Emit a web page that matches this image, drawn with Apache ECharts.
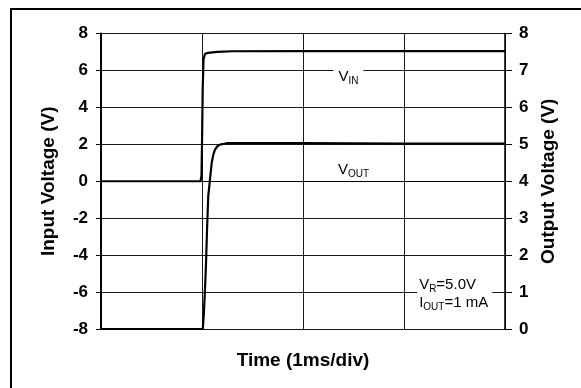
<!DOCTYPE html>
<html>
<head>
<meta charset="utf-8">
<script src="https://cdn.jsdelivr.net/npm/echarts@6/dist/echarts.min.js"></script>
<style>
  html, body { margin: 0; padding: 0; background: #ffffff; }
  #chart { width: 581px; height: 388px; }
</style>
</head>
<body>
<div id="chart"></div>
<script>
// Time axis: 1 ms per division, four divisions
const timeRange = [0, 4];

// Input voltage step (left axis, V) against time (ms)
const vinTime  = [0, 0.985, 0.995, 1.000, 1.007, 1.015, 1.030, 1.060, 1.150, 1.300, 2.000, 3.000, 4.000];
const vinVolts = [0, 0,     0.3,   2.0,   5.0,   6.6,   6.90,  6.95,  7.00,  7.04,  7.05,  7.05,  7.05];

// Regulated output voltage response (right axis, V) against time (ms)
const voutTime  = [0, 1.008, 1.013, 1.020, 1.030, 1.040, 1.050, 1.062, 1.079, 1.096, 1.112, 1.129, 1.150, 1.178, 1.244, 2.000, 3.000, 4.000];
const voutVolts = [0, 0,     0.05,  0.5,   1.1,   1.8,   2.7,   3.6,   4.05,  4.5,   4.72,  4.86,  4.94,  4.99,  5.03,  5.03,  5.02,  5.02];

// Axis ranges
const inputRange = [-8, 8];
const outputRange = [0, 8];

const FONT = 'Liberation Sans, Arial, Helvetica, sans-serif';

const pair = (xs, ys) => xs.map((x, i) => [x, ys[i]]);

const chart = echarts.init(document.getElementById('chart'), null, { renderer: 'canvas' });

const option = {
  backgroundColor: '#ffffff',
  animation: false,
  grid: { left: 101, right: 76, top: 33.5, bottom: 59, containLabel: false },
  xAxis: {
    type: 'value',
    min: timeRange[0], max: timeRange[1], interval: 1,
    name: 'Time (1ms/div)',
    nameLocation: 'middle',
    nameGap: 22,
    nameTextStyle: { fontFamily: FONT, fontWeight: 'bold', fontSize: 19, color: '#000' },
    axisLine: { show: true, lineStyle: { color: '#000', width: 1 } },
    axisTick: { show: false },
    axisLabel: { show: false },
    splitLine: { show: true, lineStyle: { color: '#1a1a1a', width: 1 } }
  },
  yAxis: [
    {
      type: 'value',
      position: 'left',
      min: inputRange[0], max: inputRange[1], interval: 2,
      name: 'Input Voltage (V)',
      nameLocation: 'middle',
      nameGap: 43,
      nameTextStyle: { fontFamily: FONT, fontWeight: 'bold', fontSize: 19, color: '#000' },
      axisLine: { show: true, lineStyle: { color: '#000', width: 2 } },
      axisTick: { show: true, inside: false, length: 5, lineStyle: { color: '#000', width: 1 } },
      axisLabel: { margin: 13, fontFamily: FONT, fontWeight: 'bold', fontSize: 17, color: '#000' },
      splitLine: { show: true, lineStyle: { color: '#1a1a1a', width: 1 } }
    },
    {
      type: 'value',
      position: 'right',
      min: outputRange[0], max: outputRange[1], interval: 1,
      name: 'Output Voltage (V)',
      nameLocation: 'middle',
      nameGap: 33,
      nameTextStyle: { fontFamily: FONT, fontWeight: 'bold', fontSize: 19, color: '#000' },
      axisLine: { show: true, lineStyle: { color: '#000', width: 1.5 } },
      axisTick: { show: true, inside: false, length: 7, lineStyle: { color: '#000', width: 1 } },
      axisLabel: { margin: 14, fontFamily: FONT, fontWeight: 'bold', fontSize: 17, color: '#000' },
      splitLine: { show: false }
    }
  ],
  series: [
    {
      name: 'VIN',
      type: 'line',
      yAxisIndex: 0,
      data: pair(vinTime, vinVolts),
      showSymbol: false,
      symbol: 'none',
      lineStyle: { color: '#000', width: 2.2 },
      z: 5
    },
    {
      name: 'VOUT',
      type: 'line',
      yAxisIndex: 1,
      data: pair(voutTime, voutVolts),
      showSymbol: false,
      symbol: 'none',
      lineStyle: { color: '#000', width: 2.2 },
      z: 5
    }
  ]
};

chart.setOption(option);

// Text labels placed in data coordinates so they follow the axes
function at(t, v, axis) {
  return chart.convertToPixel({ xAxisIndex: 0, yAxisIndex: axis }, [t, v]);
}

const rich = {
  m: { fontFamily: FONT, fontSize: 15, color: '#000', lineHeight: 18, verticalAlign: 'middle' },
  s: { fontFamily: FONT, fontSize: 10, color: '#000', lineHeight: 18, verticalAlign: 'bottom' }
};

const pVin = at(2.45, 5.65, 0);
const pVout = at(2.5, 0.6, 0);
const pNote = at(3.13, -6.1, 0);

chart.setOption({
  graphic: [
    {
      type: 'rect',
      shape: { x: 11, y: 9, width: 620, height: 420 },
      style: { fill: 'none', stroke: '#000', lineWidth: 2 },
      silent: true,
      z: 0
    },
    {
      type: 'text',
      x: pVin[0], y: pVin[1],
      style: {
        text: '{m|V}{s|IN}',
        rich: rich,
        align: 'center', verticalAlign: 'middle',
        backgroundColor: '#fff',
        padding: [1, 5, 1, 5]
      },
      z: 10
    },
    {
      type: 'text',
      x: pVout[0], y: pVout[1],
      style: {
        text: '{m|V}{s|OUT}',
        rich: rich,
        align: 'center', verticalAlign: 'middle',
        backgroundColor: '#fff',
        padding: [1, 3, 1, 3]
      },
      z: 10
    },
    {
      type: 'text',
      x: pNote[0], y: pNote[1],
      style: {
        text: '{m|V}{s|R}{m|=5.0V}\n{m|I}{s|OUT}{m|=1 mA}',
        rich: rich,
        align: 'left', verticalAlign: 'middle',
        backgroundColor: '#fff',
        padding: [0, 4, 0, 2]
      },
      z: 10
    }
  ]
});
</script>
</body>
</html>
